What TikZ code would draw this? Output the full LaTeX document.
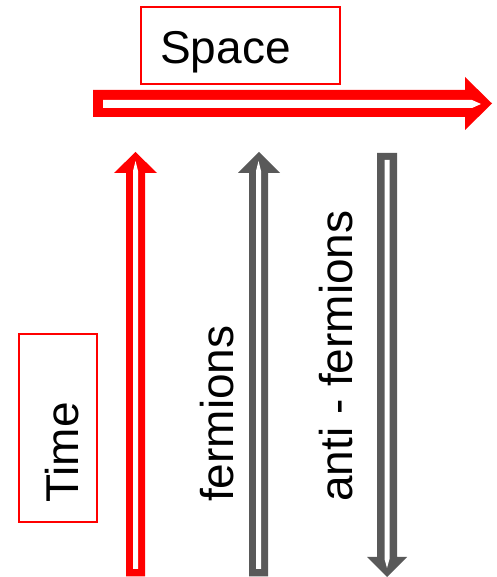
\documentclass[tikz,border=0pt]{standalone}
\usepackage{fontspec}
\setmainfont{Liberation Sans}
\definecolor{myred}{HTML}{FF0000}
\definecolor{mygrey}{HTML}{595959}
\begin{document}
\begin{tikzpicture}[x=1pt,y=1pt,
  lbl/.style={inner sep=0pt,anchor=base west,font=\fontsize{46}{50}\selectfont},
  frame/.style={draw=myred,line width=1.3pt}]
\useasboundingbox (0,0) rectangle (496,577);
\begin{scope}[shift={(0,577)},yscale=-1]
  % horizontal space arrow
  \fill[myred] (93,90) -- (465,90) -- (465,77) -- (492,103.5) -- (465,130) -- (465,117) -- (93,117) -- cycle;
  \fill[white] (103,100) -- (472,100) -- (481,104) -- (472,108) -- (103,108) -- cycle;
  % time arrow (red, up)
  \fill[myred] (126,576.5) -- (126,173) -- (114,173) -- (135.5,152) -- (157,173) -- (145,173) -- (145,576.5) -- cycle;
  \fill[white] (133,569) -- (133,171) -- (135.5,161) -- (138,171) -- (138,569) -- cycle;
  % fermions arrow (grey, up)
  \fill[mygrey] (249,576.5) -- (249,173) -- (238,173) -- (259,152) -- (280,173) -- (268,173) -- (268,576.5) -- cycle;
  \fill[white] (256,569) -- (256,171) -- (258.5,161) -- (261,171) -- (261,569) -- cycle;
  % anti-fermions arrow (grey, down)
  \fill[mygrey] (377,153) -- (397,153) -- (397,557) -- (407,557) -- (387,577) -- (367,557) -- (377,557) -- cycle;
  \fill[white] (384.5,160) -- (389.5,160) -- (389.5,559) -- (387,568) -- (384.5,559) -- cycle;
  % label frames
  \draw[frame] (141,7) rectangle (340,84);
  \draw[frame] (19,334) rectangle (97,522);
\end{scope}
\node[lbl] (space) at (160,513) {Space};
\node[lbl,rotate=90] (time) at (78,74) {Time};
\node[lbl,rotate=90] (ferm) at (233,75) {fermions};
\node[lbl,rotate=90] (antiferm) at (352,75) {anti - fermions};
\end{tikzpicture}
\end{document}
